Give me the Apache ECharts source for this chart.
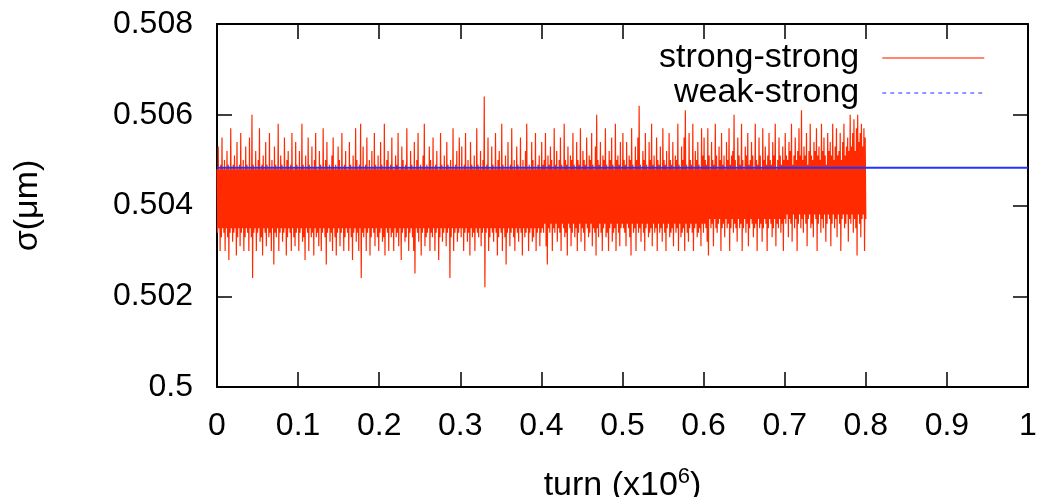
<!DOCTYPE html>
<html><head><meta charset="utf-8">
<script src="https://cdn.jsdelivr.net/npm/echarts@6/dist/echarts.min.js"></script>
<style>html,body{margin:0;padding:0;background:#fff}#c{width:1037px;height:497px}</style>
</head><body><div id="c"></div>
<script>
const xTickLabels = ['0','0.1','0.2','0.3','0.4','0.5','0.6','0.7','0.8','0.9','1'];
const yTickLabels = ['0.5','0.502','0.504','0.506','0.508'];
const seriesNames = ['strong-strong','weak-strong'];
const xAxisTitle = 'turn (x10';
const xAxisTitleExp = '6';
const yAxisTitle = 'σ(μm)';

// strong-strong: equally spaced turns from 0 to 0.8 (x10^6)
const ssTurnRange = [0, 0.8];
const ssSigma = [
// 0.0 - 0.1
0.5048,0.5034,0.5053,0.5035,0.5048,0.5030,0.5049,0.5033,0.5055,0.5035,0.5048,0.5034,0.5050,0.5030,0.5048,0.5035,0.5052,0.5033,0.5049,0.5028,0.5048,0.5034,0.5057,0.5035,0.5048,0.5032,
0.5049,0.5034,0.5051,0.5035,0.5048,0.5029,0.5054,0.5033,0.5048,0.5035,0.5049,0.5031,0.5056,0.5034,0.5048,0.5035,0.5050,0.5030,0.5048,0.5033,0.5053,0.5035,0.5049,0.5034,0.5048,0.5030,
0.5055,0.5035,0.5048,0.5033,0.5060,0.5024,0.5049,0.5034,0.5048,0.5035,0.5052,0.5030,0.5048,0.5034,0.5050,0.5035,0.5057,0.5032,0.5048,0.5033,0.5049,0.5029,0.5051,0.5035,0.5048,0.5034,
0.5054,0.5031,0.5049,0.5035,0.5048,0.5033,0.5056,0.5034,0.5048,0.5030,0.5050,0.5035,0.5048,0.5027,0.5053,0.5034,0.5049,0.5033,0.5048,0.5035,0.5058,0.5030,0.5048,0.5034,0.5051,0.5035,
0.5049,0.5032,0.5048,0.5034,0.5055,0.5035,0.5048,0.5029,0.5050,0.5033,0.5052,0.5035,0.5048,0.5034,0.5049,0.5030,0.5056,0.5035,0.5048,0.5033,0.5048,0.5031,0.5054,0.5034,0.5049,0.5035,
// 0.1 - 0.2
0.5048,0.5030,0.5052,0.5034,0.5048,0.5035,0.5058,0.5032,0.5049,0.5033,0.5048,0.5028,0.5051,0.5035,0.5048,0.5034,0.5055,0.5030,0.5049,0.5035,0.5048,0.5033,0.5053,0.5034,0.5048,0.5029,
0.5050,0.5035,0.5056,0.5033,0.5048,0.5034,0.5048,0.5031,0.5052,0.5035,0.5049,0.5030,0.5048,0.5034,0.5057,0.5035,0.5048,0.5033,0.5050,0.5027,0.5054,0.5034,0.5048,0.5035,0.5049,0.5032,
0.5048,0.5034,0.5051,0.5030,0.5055,0.5035,0.5048,0.5033,0.5049,0.5029,0.5048,0.5034,0.5053,0.5035,0.5050,0.5031,0.5048,0.5034,0.5056,0.5035,0.5048,0.5030,0.5049,0.5033,0.5052,0.5035,
0.5048,0.5034,0.5048,0.5030,0.5054,0.5035,0.5049,0.5033,0.5048,0.5028,0.5051,0.5034,0.5048,0.5035,0.5057,0.5032,0.5050,0.5034,0.5048,0.5030,0.5049,0.5035,0.5058,0.5024,0.5048,0.5034,
0.5053,0.5033,0.5048,0.5035,0.5049,0.5030,0.5055,0.5034,0.5048,0.5035,0.5050,0.5029,0.5048,0.5033,0.5052,0.5035,0.5048,0.5034,0.5056,0.5031,0.5049,0.5035,0.5048,0.5033,0.5051,0.5030,
// 0.2 - 0.3
0.5048,0.5034,0.5054,0.5035,0.5049,0.5032,0.5048,0.5033,0.5058,0.5029,0.5048,0.5035,0.5050,0.5034,0.5052,0.5030,0.5048,0.5035,0.5049,0.5033,0.5055,0.5034,0.5048,0.5030,0.5048,0.5035,
0.5051,0.5033,0.5049,0.5034,0.5056,0.5031,0.5048,0.5035,0.5048,0.5028,0.5053,0.5034,0.5050,0.5035,0.5048,0.5032,0.5049,0.5033,0.5057,0.5035,0.5048,0.5030,0.5048,0.5034,0.5052,0.5035,
0.5049,0.5033,0.5048,0.5030,0.5054,0.5025,0.5048,0.5035,0.5050,0.5034,0.5056,0.5032,0.5048,0.5035,0.5049,0.5029,0.5048,0.5034,0.5051,0.5035,0.5058,0.5031,0.5048,0.5033,0.5049,0.5034,
0.5048,0.5035,0.5053,0.5030,0.5050,0.5034,0.5048,0.5033,0.5055,0.5035,0.5048,0.5030,0.5049,0.5034,0.5052,0.5035,0.5048,0.5028,0.5048,0.5033,0.5056,0.5035,0.5049,0.5032,0.5048,0.5034,
0.5051,0.5035,0.5048,0.5031,0.5054,0.5034,0.5049,0.5035,0.5048,0.5024,0.5050,0.5033,0.5048,0.5035,0.5057,0.5030,0.5048,0.5034,0.5049,0.5035,0.5052,0.5032,0.5048,0.5034,0.5055,0.5035,
// 0.3 - 0.4
0.5048,0.5033,0.5053,0.5035,0.5048,0.5030,0.5049,0.5034,0.5056,0.5035,0.5048,0.5032,0.5050,0.5034,0.5048,0.5029,0.5054,0.5035,0.5049,0.5033,0.5048,0.5034,0.5051,0.5030,0.5048,0.5035,
0.5057,0.5034,0.5049,0.5033,0.5048,0.5035,0.5052,0.5031,0.5048,0.5034,0.5050,0.5035,0.5064,0.5022,0.5048,0.5034,0.5049,0.5035,0.5055,0.5030,0.5048,0.5033,0.5048,0.5035,0.5053,0.5034,
0.5049,0.5032,0.5048,0.5035,0.5056,0.5034,0.5048,0.5029,0.5050,0.5033,0.5052,0.5035,0.5048,0.5034,0.5058,0.5030,0.5049,0.5035,0.5048,0.5033,0.5051,0.5027,0.5048,0.5034,0.5054,0.5035,
0.5048,0.5031,0.5049,0.5034,0.5057,0.5035,0.5048,0.5033,0.5050,0.5030,0.5048,0.5035,0.5053,0.5034,0.5049,0.5032,0.5048,0.5035,0.5055,0.5034,0.5048,0.5029,0.5050,0.5035,0.5048,0.5033,
0.5052,0.5034,0.5058,0.5035,0.5048,0.5030,0.5049,0.5034,0.5048,0.5035,0.5054,0.5032,0.5050,0.5033,0.5048,0.5035,0.5056,0.5030,0.5048,0.5034,0.5049,0.5035,0.5051,0.5031,0.5048,0.5034,
// 0.4 - 0.5
0.5054,0.5035,0.5049,0.5034,0.5050,0.5036,0.5056,0.5031,0.5048,0.5027,0.5051,0.5035,0.5049,0.5034,0.5053,0.5036,0.5050,0.5030,0.5048,0.5035,0.5057,0.5034,0.5049,0.5036,0.5052,0.5032,
0.5048,0.5035,0.5050,0.5034,0.5055,0.5030,0.5049,0.5036,0.5048,0.5035,0.5058,0.5033,0.5050,0.5034,0.5049,0.5029,0.5053,0.5036,0.5048,0.5035,0.5051,0.5031,0.5050,0.5034,0.5056,0.5036,
0.5049,0.5033,0.5048,0.5035,0.5054,0.5030,0.5050,0.5034,0.5049,0.5036,0.5057,0.5032,0.5048,0.5035,0.5052,0.5034,0.5050,0.5030,0.5049,0.5036,0.5055,0.5035,0.5048,0.5033,0.5051,0.5034,
0.5050,0.5036,0.5056,0.5031,0.5049,0.5035,0.5048,0.5034,0.5053,0.5029,0.5060,0.5035,0.5050,0.5033,0.5049,0.5036,0.5054,0.5034,0.5048,0.5030,0.5051,0.5035,0.5050,0.5036,0.5057,0.5033,
0.5049,0.5034,0.5048,0.5030,0.5052,0.5035,0.5050,0.5036,0.5055,0.5032,0.5049,0.5034,0.5048,0.5035,0.5058,0.5030,0.5050,0.5036,0.5051,0.5034,0.5049,0.5031,0.5054,0.5035,0.5048,0.5036,
// 0.5 - 0.6
0.5056,0.5035,0.5050,0.5034,0.5049,0.5031,0.5054,0.5036,0.5048,0.5035,0.5051,0.5033,0.5050,0.5029,0.5057,0.5036,0.5049,0.5034,0.5048,0.5035,0.5053,0.5030,0.5050,0.5036,0.5055,0.5034,
0.5062,0.5035,0.5049,0.5032,0.5048,0.5036,0.5052,0.5034,0.5050,0.5030,0.5056,0.5035,0.5049,0.5036,0.5048,0.5033,0.5054,0.5034,0.5050,0.5035,0.5058,0.5031,0.5049,0.5036,0.5051,0.5034,
0.5048,0.5035,0.5055,0.5030,0.5050,0.5036,0.5049,0.5034,0.5053,0.5035,0.5048,0.5032,0.5057,0.5036,0.5050,0.5034,0.5049,0.5030,0.5052,0.5035,0.5048,0.5036,0.5056,0.5033,0.5050,0.5034,
0.5049,0.5035,0.5054,0.5031,0.5048,0.5036,0.5051,0.5034,0.5050,0.5035,0.5058,0.5030,0.5049,0.5036,0.5048,0.5033,0.5053,0.5034,0.5050,0.5035,0.5055,0.5030,0.5061,0.5036,0.5049,0.5034,
0.5048,0.5032,0.5056,0.5035,0.5050,0.5036,0.5049,0.5034,0.5058,0.5030,0.5048,0.5035,0.5052,0.5036,0.5050,0.5033,0.5054,0.5034,0.5049,0.5035,0.5048,0.5031,0.5057,0.5036,0.5051,0.5034,
// 0.6 - 0.7
0.5055,0.5036,0.5050,0.5035,0.5049,0.5032,0.5057,0.5029,0.5051,0.5037,0.5048,0.5035,0.5054,0.5036,0.5050,0.5031,0.5049,0.5037,0.5058,0.5035,0.5051,0.5034,0.5048,0.5036,0.5053,0.5037,
0.5050,0.5030,0.5056,0.5035,0.5049,0.5036,0.5051,0.5033,0.5048,0.5037,0.5054,0.5035,0.5050,0.5036,0.5057,0.5030,0.5049,0.5035,0.5051,0.5037,0.5052,0.5034,0.5060,0.5036,0.5050,0.5035,
0.5048,0.5032,0.5055,0.5037,0.5051,0.5035,0.5049,0.5036,0.5058,0.5030,0.5050,0.5035,0.5048,0.5037,0.5053,0.5034,0.5051,0.5036,0.5056,0.5031,0.5049,0.5035,0.5050,0.5037,0.5054,0.5036,
0.5051,0.5033,0.5048,0.5035,0.5058,0.5036,0.5050,0.5030,0.5049,0.5037,0.5055,0.5035,0.5051,0.5036,0.5048,0.5032,0.5057,0.5035,0.5050,0.5037,0.5053,0.5036,0.5049,0.5030,0.5051,0.5035,
0.5056,0.5037,0.5050,0.5036,0.5049,0.5033,0.5054,0.5035,0.5051,0.5037,0.5058,0.5031,0.5048,0.5036,0.5050,0.5035,0.5055,0.5037,0.5051,0.5034,0.5049,0.5036,0.5053,0.5030,0.5050,0.5037,
// 0.7 - 0.8
0.5056,0.5036,0.5051,0.5038,0.5050,0.5033,0.5054,0.5037,0.5052,0.5036,0.5058,0.5032,0.5049,0.5038,0.5051,0.5035,0.5055,0.5037,0.5050,0.5030,0.5052,0.5036,0.5057,0.5038,0.5051,0.5035,
0.5061,0.5037,0.5050,0.5034,0.5053,0.5038,0.5051,0.5036,0.5056,0.5031,0.5049,0.5037,0.5052,0.5038,0.5058,0.5035,0.5051,0.5036,0.5050,0.5033,0.5054,0.5038,0.5052,0.5037,0.5057,0.5030,
0.5051,0.5036,0.5053,0.5038,0.5050,0.5034,0.5058,0.5037,0.5052,0.5035,0.5055,0.5038,0.5051,0.5032,0.5049,0.5036,0.5056,0.5038,0.5052,0.5037,0.5054,0.5031,0.5051,0.5036,0.5058,0.5038,
0.5050,0.5035,0.5053,0.5037,0.5057,0.5033,0.5051,0.5038,0.5052,0.5036,0.5056,0.5030,0.5050,0.5037,0.5054,0.5038,0.5058,0.5035,0.5051,0.5036,0.5053,0.5038,0.5055,0.5032,0.5052,0.5037,
0.5060,0.5036,0.5053,0.5038,0.5056,0.5034,0.5059,0.5037,0.5052,0.5035,0.5057,0.5029,0.5060,0.5038,0.5054,0.5036,0.5056,0.5033,0.5058,0.5037,0.5053,0.5038,0.5057,0.5030,0.5055,0.5037
];

// weak-strong: flat over the full range
const wsTurn  = [0, 0.1, 0.2, 0.3, 0.4, 0.5, 0.6, 0.7, 0.8, 0.9, 1.0];
const wsSigma = [0.50483, 0.50483, 0.50483, 0.50483, 0.50483, 0.50483, 0.50483, 0.50483, 0.50483, 0.50483, 0.50483];

const FONT = '"Liberation Sans", Arial, Helvetica, sans-serif';
const ssData = ssSigma.map((v, i) => [ssTurnRange[0] + (ssTurnRange[1] - ssTurnRange[0]) * i / (ssSigma.length - 1), v]);
const wsData = wsSigma.map((v, i) => [wsTurn[i], v]);

const RED = '#ff2a00';
const BLUE = '#2233ff';
const axisLineStyle = { color: '#000', width: 2 };
const tickStyle = { show: true, inside: true, length: 15, lineStyle: { color: '#000', width: 1.5 } };
const hiddenSymbol = { color: 'rgba(0,0,0,0)', borderColor: 'rgba(0,0,0,0)', borderWidth: 0, opacity: 0 };

const chart = echarts.init(document.getElementById('c'), null, { renderer: 'canvas' });
chart.setOption({
  animation: false,
  backgroundColor: '#fff',
  grid: { left: 217, right: 9, top: 24, bottom: 110, containLabel: false, outerBoundsMode: 'none' },
  legend: {
    orient: 'vertical', right: 52, top: 41, align: 'right', padding: 0,
    itemWidth: 102, itemHeight: 12, itemGap: 1,
    textStyle: { fontSize: 34, color: '#000', fontFamily: FONT, padding: [0, 18, 0, 0] },
    data: [
      { name: seriesNames[0], itemStyle: hiddenSymbol, lineStyle: { color: RED, width: 1.5, type: 'solid', opacity: 0.75 } },
      { name: seriesNames[1], itemStyle: hiddenSymbol, lineStyle: { color: BLUE, width: 1, type: [4, 4] } }
    ]
  },
  xAxis: [
    {
      type: 'value', position: 'bottom', min: 0, max: 1, interval: 0.1,
      axisLine: { show: true, onZero: false, lineStyle: axisLineStyle },
      axisTick: tickStyle,
      splitLine: { show: false },
      axisLabel: { margin: 23, fontSize: 32, color: '#000', fontFamily: FONT,
        formatter: v => xTickLabels[Math.round(v / 0.1)] },
      name: '{a|' + xAxisTitle + '}{s|' + xAxisTitleExp + '}{a|)}',
      nameLocation: 'middle', nameGap: 79,
      nameTextStyle: { color: '#000', fontFamily: FONT, fontSize: 34,
        rich: { a: { fontSize: 34, color: '#000', fontFamily: FONT, lineHeight: 40 },
                s: { fontSize: 22, color: '#000', fontFamily: FONT, verticalAlign: 'top', lineHeight: 40 } } }
    },
    {
      type: 'value', position: 'top', min: 0, max: 1, interval: 0.1,
      axisLine: { show: true, onZero: false, lineStyle: axisLineStyle },
      axisTick: tickStyle, axisLabel: { show: false }, splitLine: { show: false }
    }
  ],
  yAxis: [
    {
      type: 'value', position: 'left', min: 0.5, max: 0.508, interval: 0.002,
      axisLine: { show: true, onZero: false, lineStyle: axisLineStyle },
      axisTick: tickStyle,
      splitLine: { show: false },
      axisLabel: { margin: 24, fontSize: 32, color: '#000', fontFamily: FONT,
        formatter: v => yTickLabels[Math.round((v - 0.5) / 0.002)] },
      name: yAxisTitle, nameLocation: 'middle', nameGap: 172,
      nameTextStyle: { color: '#000', fontFamily: FONT, fontSize: 34 }
    },
    {
      type: 'value', position: 'right', min: 0.5, max: 0.508, interval: 0.002,
      axisLine: { show: true, onZero: false, lineStyle: axisLineStyle },
      axisTick: tickStyle, axisLabel: { show: false }, splitLine: { show: false }
    }
  ],
  series: [
    {
      name: seriesNames[0], type: 'line', xAxisIndex: 0, yAxisIndex: 0,
      data: ssData, symbol: 'none', showSymbol: false,
      lineStyle: { color: RED, width: 1.2, join: 'bevel' },
      itemStyle: { color: RED }
    },
    {
      name: seriesNames[1], type: 'line', xAxisIndex: 0, yAxisIndex: 0,
      data: wsData, symbol: 'none', showSymbol: false,
      lineStyle: { color: BLUE, width: 2 },
      itemStyle: { color: BLUE }
    }
  ]
});
</script>
</body></html>
